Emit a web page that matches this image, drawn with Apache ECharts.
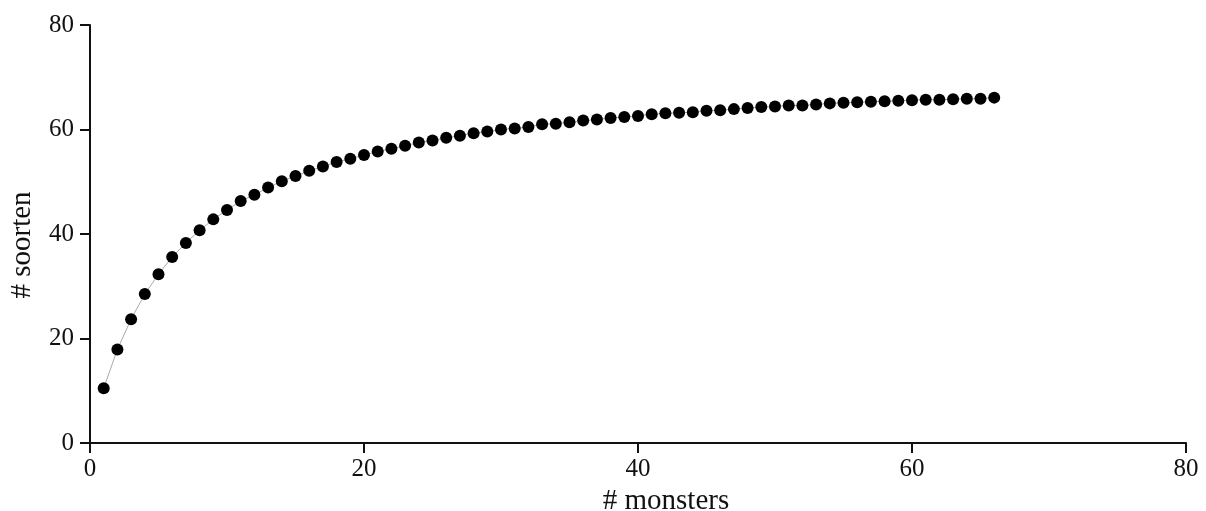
<!DOCTYPE html>
<html>
<head>
<meta charset="utf-8">
<script src="https://cdn.jsdelivr.net/npm/echarts@6/dist/echarts.min.js"></script>
<style>html,body{margin:0;padding:0;background:#fff;overflow:hidden}#c{width:1206px;height:511px}</style>
</head>
<body>
<div id="c"></div>
<script>
const monsters = [1,2,3,4,5,6,7,8,9,10,11,12,13,14,15,16,17,18,19,20,21,22,23,24,25,26,27,28,29,30,31,32,33,34,35,36,37,38,39,40,41,42,43,44,45,46,47,48,49,50,51,52,53,54,55,56,57,58,59,60,61,62,63,64,65,66];
const soorten = [10.5,17.9,23.7,28.5,32.3,35.6,38.3,40.7,42.8,44.6,46.3,47.5,48.9,50.1,51.1,52.1,52.9,53.8,54.4,55.1,55.8,56.3,56.9,57.5,57.9,58.4,58.8,59.3,59.6,60.0,60.2,60.5,61.0,61.1,61.4,61.7,61.9,62.2,62.4,62.6,62.9,63.1,63.2,63.3,63.6,63.7,63.9,64.1,64.3,64.4,64.6,64.6,64.8,65.0,65.1,65.2,65.3,65.4,65.5,65.6,65.7,65.7,65.8,65.9,65.9,66.1];
const xTicks = [0,20,40,60,80];
const yTicks = [0,20,40,60,80];

const chart = echarts.init(document.getElementById('c'), null, {renderer:'canvas', width:1206, height:511});
const font = 'Liberation Serif';
chart.setOption({
  animation:false,
  backgroundColor:'#fff',
  grid:{left:90,right:20,top:25,bottom:68,containLabel:false,outerBoundsMode:'none'},
  xAxis:{
    type:'value',min:xTicks[0],max:xTicks[xTicks.length-1],interval:20,
    name:'# monsters',nameLocation:'middle',nameGap:41,
    nameTextStyle:{fontFamily:font,fontSize:29,color:'#111',padding:[0,0,0,56]},
    axisLine:{show:true,lineStyle:{color:'#111',width:2}},
    axisTick:{show:true,length:10,lineStyle:{color:'#111',width:2}},
    axisLabel:{fontFamily:font,fontSize:25,color:'#111',margin:14},
    splitLine:{show:false}
  },
  yAxis:{
    type:'value',min:yTicks[0],max:yTicks[yTicks.length-1],interval:20,
    name:'# soorten',nameLocation:'middle',nameGap:53,
    nameTextStyle:{fontFamily:font,fontSize:29,color:'#111',padding:[0,22,0,0]},
    axisLine:{show:true,lineStyle:{color:'#111',width:2}},
    axisTick:{show:true,length:10,lineStyle:{color:'#111',width:2}},
    axisLabel:{fontFamily:font,fontSize:25,color:'#111',margin:16},
    splitLine:{show:false}
  },
  series:[{
    type:'line',
    data:monsters.map((m,i)=>[m,soorten[i]]),
    symbol:'circle',symbolSize:12,showSymbol:true,
    itemStyle:{color:'#000'},
    lineStyle:{color:'#aaa',width:1}
  }]
});
</script>
</body>
</html>
